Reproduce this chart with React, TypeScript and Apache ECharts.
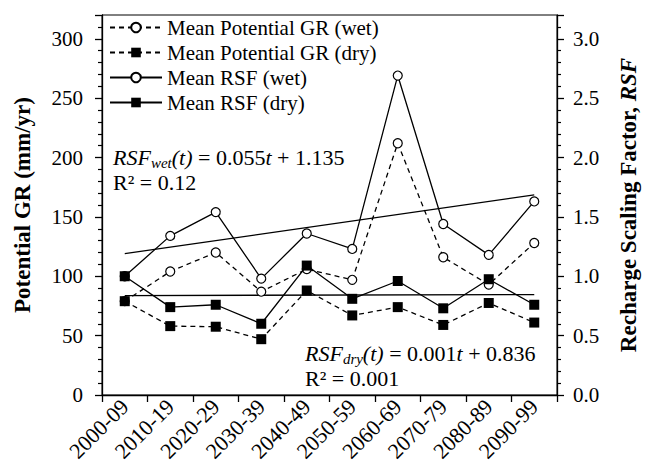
import React, { useEffect, useRef } from "react";
import * as echarts from "echarts";

const categories = ["2000-09", "2010-19", "2020-29", "2030-39", "2040-49", "2050-59", "2060-69", "2070-79", "2080-89", "2090-99"];
const grWet = [79, 104, 120, 87, 106, 97, 212, 116, 93, 128];
const grDry = [79, 58, 57.5, 47, 88, 67, 74, 59, 77.5, 61];
const rsfWet = [1.0, 1.34, 1.54, 0.98, 1.36, 1.23, 2.69, 1.44, 1.18, 1.63];
const rsfDry = [1.0, 0.74, 0.76, 0.6, 1.09, 0.81, 0.96, 0.73, 0.975, 0.76];
// trend line end points (first and last decade), from the fitted equations
const trendWet = [1.19, 1.685];
const trendDry = [0.837, 0.846];

const FONT = "Liberation Serif, Times New Roman, serif";

export default function App() {
  const ref = useRef<HTMLDivElement>(null);
  useEffect(() => {
    const chart = echarts.init(ref.current!, null, { renderer: "svg" });
    const last = categories.length - 1;
    const open = { color: "#fff", borderColor: "#000", borderWidth: 1.2 };
    const filled = { color: "#000", borderColor: "#000", borderWidth: 0 };
    const dashed = { color: "#000", width: 1.3, type: [5, 4] as any };
    const solid = { color: "#000", width: 1.3, type: "solid" as any };
    const richEq = {
      i: { fontFamily: FONT, fontSize: 22, fontStyle: "italic", color: "#000", lineHeight: 25 },
      n: { fontFamily: FONT, fontSize: 22, color: "#000", lineHeight: 25 },
      s: { fontFamily: FONT, fontSize: 15, fontStyle: "italic", color: "#000", lineHeight: 25, padding: [10, 0, 0, 0] },
    };
    chart.setOption({
      animation: false,
      backgroundColor: "#fff",
      textStyle: { fontFamily: FONT, color: "#000" },
      grid: { left: 102, right: 91, top: 15, bottom: 77, show: true, borderColor: "#000", borderWidth: 1 },
      legend: {
        orient: "vertical",
        left: 104,
        top: 12,
        itemWidth: 52,
        itemHeight: 12,
        itemGap: 4,
        textStyle: { fontFamily: FONT, fontSize: 21, color: "#000" },
        data: ["Mean Potential GR (wet)", "Mean Potential GR (dry)", "Mean RSF (wet)", "Mean RSF (dry)"],
      },
      xAxis: {
        type: "category",
        data: categories,
        boundaryGap: true,
        axisLine: { lineStyle: { color: "#000", width: 1.3 } },
        axisTick: { show: true, length: 7, lineStyle: { color: "#000", width: 1.3 } },
        axisLabel: { rotate: 45, fontFamily: FONT, fontSize: 22, color: "#000", margin: 8, interval: 0 },
        splitLine: { show: false },
      },
      yAxis: [
        {
          type: "value",
          min: 0,
          max: 320,
          interval: 50,
          name: "Potential GR (mm/yr)",
          nameLocation: "middle",
          nameRotate: 90,
          nameGap: 68,
          nameTextStyle: { fontFamily: FONT, fontSize: 23, fontWeight: "bold", color: "#000" },
          axisLine: { show: true, lineStyle: { color: "#000", width: 1.3 } },
          axisTick: { show: true, length: 7, lineStyle: { color: "#000", width: 1.3 } },
          minorTick: { show: true, splitNumber: 5, length: 4, lineStyle: { color: "#000", width: 1.2 } },
          axisLabel: { fontFamily: FONT, fontSize: 21, color: "#000", margin: 19, showMaxLabel: false },
          splitLine: { show: false },
        },
        {
          type: "value",
          min: 0,
          max: 3.2,
          interval: 0.5,
          position: "right",
          name: "{b|Recharge Scaling Factor, }{bi|RSF}",
          nameLocation: "middle",
          nameRotate: 90,
          nameGap: 60,
          nameTextStyle: {
            rich: {
              b: { fontFamily: FONT, fontSize: 23, fontWeight: "bold", color: "#000" },
              bi: { fontFamily: FONT, fontSize: 23, fontWeight: "bold", fontStyle: "italic", color: "#000" },
            },
          },
          axisLine: { show: true, lineStyle: { color: "#000", width: 1.3 } },
          axisTick: { show: true, length: 7, lineStyle: { color: "#000", width: 1.3 } },
          minorTick: { show: true, splitNumber: 5, length: 4, lineStyle: { color: "#000", width: 1.2 } },
          axisLabel: {
            fontFamily: FONT,
            fontSize: 21,
            color: "#000",
            margin: 16,
            showMaxLabel: false,
            formatter: (v: number) => v.toFixed(1),
          },
          splitLine: { show: false },
        },
      ],
      series: [
        {
          name: "Mean Potential GR (wet)",
          type: "line",
          yAxisIndex: 0,
          data: grWet,
          symbol: "circle",
          symbolSize: 9,
          lineStyle: dashed,
          itemStyle: open,
          z: 3,
        },
        {
          name: "Mean Potential GR (dry)",
          type: "line",
          yAxisIndex: 0,
          data: grDry,
          symbol: "rect",
          symbolSize: 10,
          lineStyle: dashed,
          itemStyle: filled,
          z: 4,
        },
        {
          name: "Mean RSF (wet)",
          type: "line",
          yAxisIndex: 1,
          data: rsfWet,
          symbol: "circle",
          symbolSize: 9,
          lineStyle: solid,
          itemStyle: open,
          z: 3,
        },
        {
          name: "Mean RSF (dry)",
          type: "line",
          yAxisIndex: 1,
          data: rsfDry,
          symbol: "rect",
          symbolSize: 10,
          lineStyle: solid,
          itemStyle: filled,
          z: 4,
        },
        {
          name: "trend wet",
          type: "line",
          yAxisIndex: 1,
          data: [[0, trendWet[0]], [last, trendWet[1]]],
          symbol: "none",
          lineStyle: solid,
          z: 2,
        },
        {
          name: "trend dry",
          type: "line",
          yAxisIndex: 1,
          data: [[0, trendDry[0]], [last, trendDry[1]]],
          symbol: "none",
          lineStyle: solid,
          z: 2,
        },
      ],
      graphic: [
        {
          type: "text",
          left: 113,
          top: 145,
          style: {
            text: "{i|RSF}{s|wet}{i|(t)}{n| = 0.055}{i|t}{n| + 1.135}\n{n|R² = 0.12}",
            rich: richEq,
          },
        },
        {
          type: "text",
          left: 305,
          top: 341,
          style: {
            text: "{i|RSF}{s|dry}{i|(t)}{n| = 0.001}{i|t}{n| + 0.836}\n{n|R² = 0.001}",
            rich: richEq,
          },
        },
      ],
    });
    return () => chart.dispose();
  }, []);
  return <div ref={ref} style={{ position: "fixed", left: 0, top: 0, width: 648, height: 472 }} />;
}
